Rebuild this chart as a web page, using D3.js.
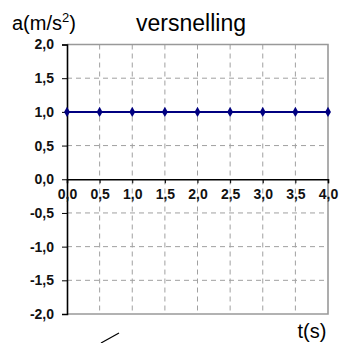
<!DOCTYPE html>
<html>
<head>
<meta charset="utf-8">
<script src="https://cdn.jsdelivr.net/npm/d3@7"></script>
<style>
  body { margin: 0; background: #fff; }
  svg { display: block; }
  .tick text { font-family: "Liberation Sans", Arial, sans-serif; font-size: 14px; font-weight: bold; fill: #111; }
</style>
</head>
<body>
<svg id="chart"></svg>
<script>
var times = [0, 0.5, 1, 1.5, 2, 2.5, 3, 3.5, 4];
var accel = [1, 1, 1, 1, 1, 1, 1, 1, 1];
var yTicks = [2, 1.5, 1, 0.5, 0, -0.5, -1, -1.5, -2];
var title = "versnelling";

var svgWidth = 341, svgHeight = 343;
var fmt = function(d) { return d3.format(".1f")(d).replace(".", ",").replace("−", "-"); };

var svg = d3.select("#chart")
  .attr("width", svgWidth)
  .attr("height", svgHeight);

var x = d3.scaleLinear().domain([0, 4]).range([67, 328]);
var y = d3.scaleLinear().domain([-2, 2]).range([314, 44.5]);

// grid
var grid = svg.append("g");
grid.selectAll(".vg")
  .data(times.filter(function(d) { return d > 0 && d < 4; }))
  .enter().append("line")
  .attr("x1", function(d) { return x(d); })
  .attr("x2", function(d) { return x(d); })
  .attr("y1", y(2)).attr("y2", y(-2))
  .attr("stroke", "#a0a0a0")
  .attr("stroke-dasharray", "5,4");
grid.selectAll(".hg")
  .data(yTicks.filter(function(d) { return d !== 0 && Math.abs(d) < 2; }))
  .enter().append("line")
  .attr("x1", x(0)).attr("x2", x(4))
  .attr("y1", function(d) { return y(d); })
  .attr("y2", function(d) { return y(d); })
  .attr("stroke", "#a0a0a0")
  .attr("stroke-dasharray", "5,4");

// frame top / right / bottom
svg.append("path")
  .attr("d", "M" + x(0) + "," + y(2) + "H" + x(4) + "V" + y(-2) + "H" + x(0))
  .attr("fill", "none")
  .attr("stroke", "#999")
  .attr("stroke-width", 1.6);

// y axis
var yAxis = svg.append("g")
  .attr("transform", "translate(" + x(0) + ",0)")
  .call(d3.axisLeft(y).tickValues(yTicks).tickFormat(fmt).tickSize(5).tickPadding(8));
yAxis.select(".domain").attr("stroke", "#000").attr("stroke-width", 1.6);
yAxis.selectAll(".tick line").attr("stroke", "#000");

// x axis on zero
var xAxis = svg.append("g")
  .attr("transform", "translate(0," + y(0) + ")")
  .call(d3.axisBottom(x).tickValues(times).tickFormat(fmt).tickSize(4).tickPadding(16));
xAxis.select(".domain").attr("stroke", "#000").attr("stroke-width", 1.6);
xAxis.selectAll(".tick line").attr("stroke", "#000");
xAxis.selectAll(".tick text").attr("dy", "0");

// data
var line = d3.line()
  .x(function(d, i) { return x(times[i]); })
  .y(function(d) { return y(d); });

svg.append("path")
  .datum(accel)
  .attr("d", line)
  .attr("fill", "none")
  .attr("stroke", "#000080")
  .attr("stroke-width", 2);

svg.selectAll(".pt")
  .data(accel)
  .enter().append("path")
  .attr("d", d3.symbol().type(d3.symbolDiamond).size(30))
  .attr("transform", function(d, i) { return "translate(" + x(times[i]) + "," + y(d) + ")"; })
  .attr("fill", "#000080");

// labels
var lab = svg.append("g")
  .attr("font-family", "'Liberation Sans', Arial, sans-serif")
  .attr("fill", "#000");

lab.append("text")
  .attr("x", 191).attr("y", 31)
  .attr("text-anchor", "middle")
  .attr("font-size", 23)
  .text(title);

var yl = lab.append("text")
  .attr("x", 12).attr("y", 30)
  .attr("font-size", 20);
yl.append("tspan").text("a(m/s");
yl.append("tspan").attr("dy", -8).attr("font-size", 13).text("2");
yl.append("tspan").attr("dy", 8).text(")");

lab.append("text")
  .attr("x", 312).attr("y", 338)
  .attr("text-anchor", "middle")
  .attr("font-size", 20)
  .text("t(s)");

// stray stroke at bottom
svg.append("line")
  .attr("x1", 101).attr("y1", 343)
  .attr("x2", 119).attr("y2", 333)
  .attr("stroke", "#000")
  .attr("stroke-width", 1.2);
</script>
</body>
</html>
